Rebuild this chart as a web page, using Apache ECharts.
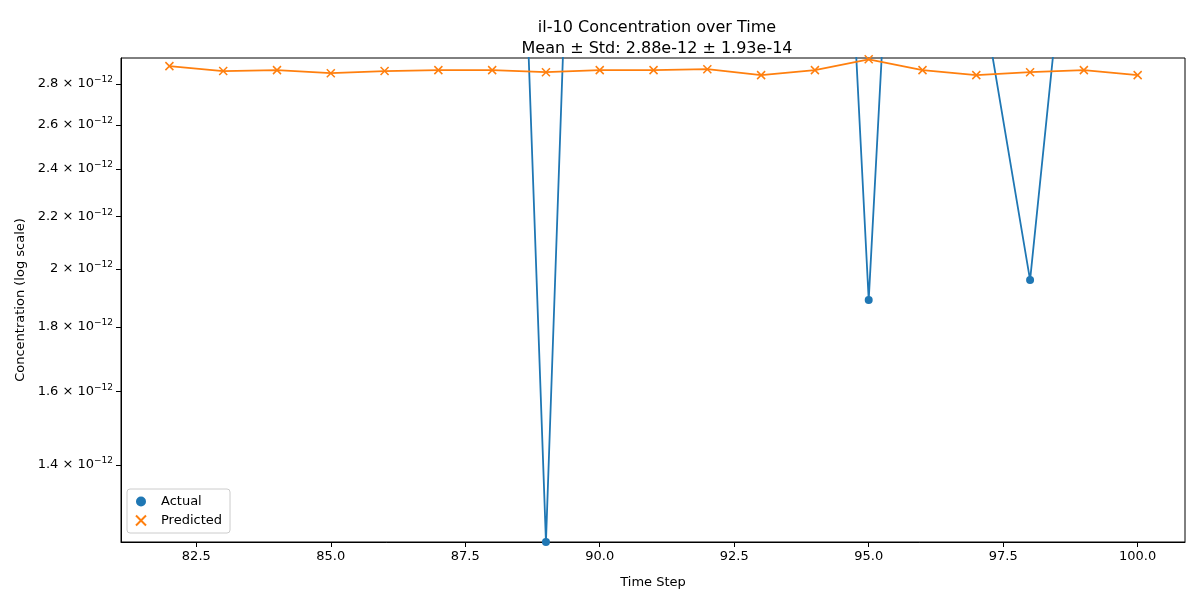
<!DOCTYPE html>
<html><head><meta charset="utf-8">
<script src="https://cdn.jsdelivr.net/npm/echarts@6/dist/echarts.min.js"></script>
<style>html,body{margin:0;padding:0;background:#fff}#c{width:1200px;height:600px}</style>
</head><body><div id="c"></div>
<script>
const steps = [82,83,84,85,86,87,88,89,90,91,92,93,94,95,96,97,98,99,100];
const actual = [1.5e-11,1.5e-11,1.5e-11,1.5e-11,1.5e-11,1.5e-11,1.9e-11,1.217e-12,2.0e-11,1.5e-11,1.5e-11,1.5e-11,1.28e-11,1.89e-12,1.18e-11,3.51e-12,1.96e-12,5.1e-12,1.5e-11];
const predicted = [2.893e-12,2.867e-12,2.872e-12,2.856e-12,2.867e-12,2.872e-12,2.872e-12,2.861e-12,2.872e-12,2.872e-12,2.877e-12,2.846e-12,2.872e-12,2.929e-12,2.872e-12,2.846e-12,2.861e-12,2.872e-12,2.846e-12];
const yTicks = [1.4e-12,1.6e-12,1.8e-12,2.0e-12,2.2e-12,2.4e-12,2.6e-12,2.8e-12];
const xTicks = [82.5,85,87.5,90,92.5,95,97.5,100];
const ch = echarts.init(document.getElementById('c'));
const xPath = 'path://M0,0L10,10M10,0L0,10';
const font = 'DejaVu Sans';
ch.setOption({
  animation:false,
  textStyle:{fontFamily:font},
  title:{text:'il-10 Concentration over Time\nMean ± Std: 2.88e-12 ± 1.93e-14',left:652,textAlign:'center',top:12,
    textStyle:{fontFamily:font,fontWeight:'normal',fontSize:16,lineHeight:21,color:'#000'}},
  legend:{left:127,top:489,orient:'vertical',itemGap:6,padding:[6,8],borderColor:'#ccc',borderWidth:1,borderRadius:3,
    textStyle:{fontFamily:font,fontSize:13,color:'#000'},itemWidth:30,itemHeight:10,
    data:[{name:'Actual',icon:'circle'},{name:'Predicted',icon:xPath}]},
  grid:{left:121,right:15,top:58,bottom:58,show:true,borderColor:'#000',borderWidth:1,containLabel:false},
  xAxis:{type:'value',min:81.1,max:100.88,name:'Time Step',nameLocation:'middle',nameGap:34,
    nameTextStyle:{fontFamily:font,fontSize:13,color:'#000'},
    axisLine:{lineStyle:{color:'#000'}},splitLine:{show:false},
    axisTick:{show:true,customValues:xTicks,length:5,lineStyle:{color:'#000'}},
    axisLabel:{customValues:xTicks,formatter:v=>v.toFixed(1),color:'#000',fontSize:13,fontFamily:font}},
  yAxis:{type:'log',logBase:10,min:1.217e-12,max:2.936e-12,name:'Concentration (log scale)',nameLocation:'middle',nameGap:92,
    nameTextStyle:{fontFamily:font,fontSize:13,color:'#000'},
    axisLine:{show:true,lineStyle:{color:'#000'}},splitLine:{show:false},
    axisTick:{show:true,customValues:yTicks,length:5,lineStyle:{color:'#000'}},
    axisLabel:{customValues:yTicks,color:'#000',fontFamily:font,
      formatter:v=>{let m=Math.round(v*1e13)/10;let s=(m%1===0)?m.toFixed(0):m.toFixed(1);return '{a|'+s+' × 10}{b|−12}';},
      rich:{a:{fontSize:13,color:'#000',fontFamily:font},b:{fontSize:9,color:'#000',fontFamily:font,verticalAlign:'top',padding:[0,0,8,0]}}}},
  series:[
    {name:'Actual',type:'line',data:steps.map((x,i)=>[x,actual[i]]),symbol:'circle',symbolSize:8,showAllSymbol:true,clip:true,
      itemStyle:{color:'#1f77b4'},lineStyle:{color:'#1f77b4',width:1.8}},
    {name:'Predicted',type:'line',data:steps.map((x,i)=>[x,predicted[i]]),symbol:xPath,symbolSize:8,clip:true,
      itemStyle:{color:'#fff',borderColor:'#ff7f0e',borderWidth:1.5},lineStyle:{color:'#ff7f0e',width:1.8}}
  ]
});
</script></body></html>
